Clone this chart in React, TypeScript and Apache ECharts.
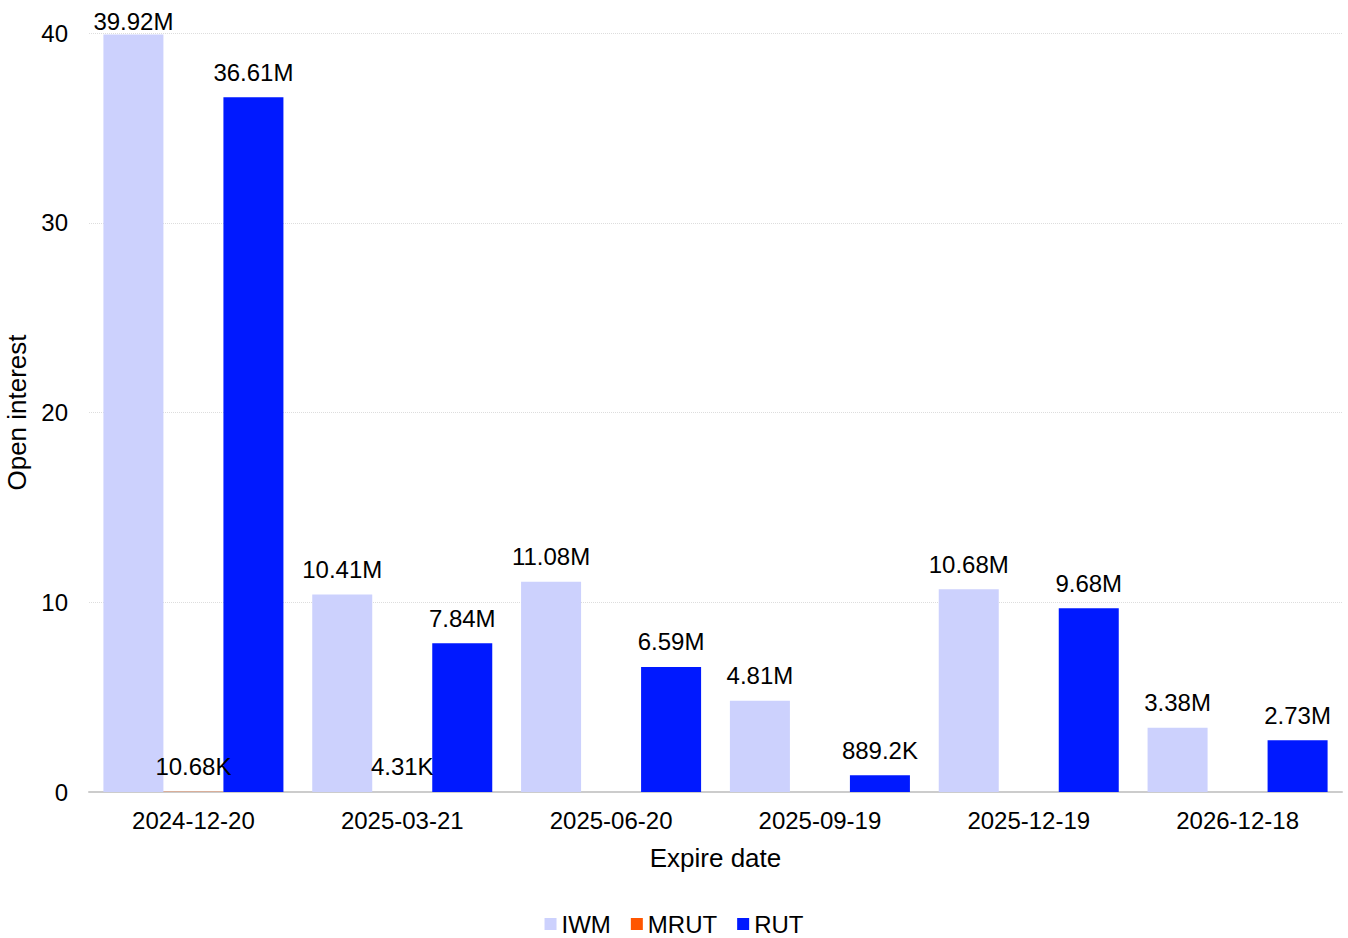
import React, { useEffect, useRef } from "react";
import * as echarts from "echarts";

const categories = ["2024-12-20", "2025-03-21", "2025-06-20", "2025-09-19", "2025-12-19", "2026-12-18"];
const iwm = [39.92, 10.41, 11.08, 4.81, 10.68, 3.38];
const mrut: (number | null)[] = [0.01068, 0.00431, null, null, null, null];
const rut = [36.61, 7.84, 6.59, 0.8892, 9.68, 2.73];

const FONT = "'Liberation Sans', Arial, sans-serif";
const Y_MAX = 40;

function fmt(v: number): string {
  const trim = (x: number) => String(parseFloat(x.toPrecision(4)));
  if (v >= 1) return trim(v) + "M";
  return trim(v * 1000) + "K";
}

export default function App() {
  const ref = useRef<HTMLDivElement>(null);
  useEffect(() => {
    document.body.style.margin = "0";
    const chart = echarts.init(ref.current!, null, { renderer: "svg" });
    const label = {
      show: true,
      position: "top" as const,
      distance: 13,
      fontSize: 24,
      color: "#000",
      fontFamily: FONT,
      formatter: (p: any) => (p.value == null ? "" : fmt(p.value)),
    };
    // labels of bars reaching the top of the plot are pushed down to stay on the page
    const toData = (arr: (number | null)[]) =>
      arr.map((v) => (v != null && v > Y_MAX * 0.95 ? { value: v, label: { distance: 1 } } : v));
    const mk = (name: string, data: (number | null)[], color: string) => ({
      name,
      type: "bar",
      data: toData(data),
      barGap: "0%",
      barCategoryGap: "13.8%",
      itemStyle: { color },
      label,
    });
    chart.setOption({
      animation: false,
      textStyle: { fontFamily: FONT },
      grid: { left: 89, right: 6, top: 33, bottom: 146, outerBoundsMode: "none", containLabel: false },
      legend: {
        top: 907,
        left: "center",
        itemWidth: 12,
        itemHeight: 12,
        itemGap: 20,
        icon: "rect",
        textStyle: { fontSize: 24, color: "#000", fontFamily: FONT },
        data: ["IWM", "MRUT", "RUT"],
      },
      xAxis: {
        type: "category",
        data: categories,
        name: "Expire date",
        nameLocation: "middle",
        nameGap: 53,
        nameTextStyle: { fontSize: 26, color: "#000", fontFamily: FONT },
        axisLine: { lineStyle: { color: "#cccccc", width: 2 } },
        axisTick: { show: false },
        axisLabel: { fontSize: 24, color: "#000", margin: 16, fontFamily: FONT },
      },
      yAxis: {
        type: "value",
        min: 0,
        max: Y_MAX,
        interval: 10,
        name: "Open interest",
        nameLocation: "middle",
        nameGap: 55,
        nameTextStyle: { fontSize: 26, color: "#000", fontFamily: FONT },
        axisLine: { show: false },
        axisTick: { show: false },
        axisLabel: { fontSize: 24, color: "#000", margin: 21, fontFamily: FONT },
        splitLine: { lineStyle: { color: "#dddddd", type: "dotted" } },
      },
      series: [
        mk("IWM", iwm, "#ccd1fd"),
        mk("MRUT", mrut, "#ff5500"),
        mk("RUT", rut, "#0019ff"),
      ],
    });
    return () => chart.dispose();
  }, []);
  return <div ref={ref} style={{ width: 1348, height: 938 }} />;
}
